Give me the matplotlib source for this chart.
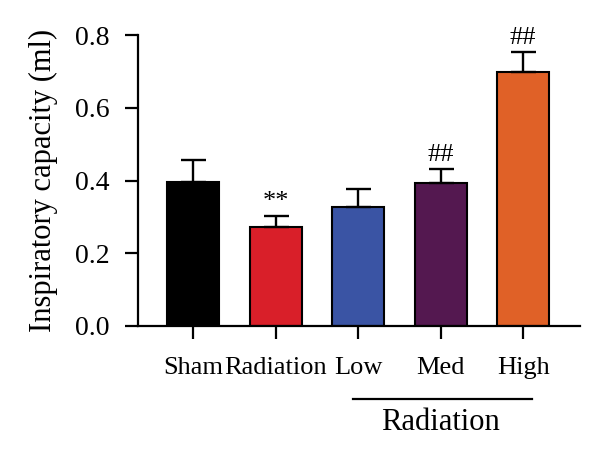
import numpy as np
import matplotlib.pyplot as plt

plt.rcParams['font.family'] = ['Liberation Serif', 'DejaVu Serif']

# data
groups = ['Sham', 'Radiation', 'Low', 'Med', 'High']
means = [0.396, 0.273, 0.327, 0.393, 0.698]
errs = [0.060, 0.030, 0.049, 0.038, 0.055]
marks = ['', '**', '', '##', '##']
colors = ['#000000', '#d91f29', '#3a54a4', '#541850', '#e06127']

fig = plt.figure(figsize=(6, 4.57), dpi=100)
ax = fig.add_axes([0.23, 0.2867, 0.737, 0.636])

x = np.arange(len(groups))
ax.bar(x, means, width=0.63, color=colors, edgecolor='black', linewidth=1.5,
       yerr=[np.zeros(len(errs)), errs], capsize=9,
       error_kw=dict(elinewidth=1.7, capthick=1.7, ecolor='black'), zorder=2)

# significance marks above error bars
for xi, m, e, s in zip(x, means, errs, marks):
    if s:
        ax.text(xi, m + e + 0.008, s, ha='center', va='bottom', fontsize=19)

ax.set_xlim(-0.667, 4.69)
ax.set_ylim(0, 0.8)
ax.set_yticks([0.0, 0.2, 0.4, 0.6, 0.8])
ax.set_yticklabels(['0.0', '0.2', '0.4', '0.6', '0.8'])
ax.set_xticks(x)
ax.set_xticklabels(groups)

for side in ['top', 'right']:
    ax.spines[side].set_visible(False)
for side in ['left', 'bottom']:
    ax.spines[side].set_linewidth(1.6)
ax.tick_params(axis='both', width=1.6, length=9.5, color='black')
ax.tick_params(axis='x', pad=13, labelsize=19)
ax.tick_params(axis='y', pad=11, labelsize=20)

ax.set_ylabel('Inspiratory capacity (ml)', fontsize=22, labelpad=12)

# group bracket for the radiation doses
trans = ax.get_xaxis_transform()
ax.plot([1.94, 4.11], [-0.251, -0.251], color='black', lw=1.6, transform=trans, clip_on=False)
ax.text(3.0, -0.333, 'Radiation', ha='center', va='center', fontsize=22, transform=trans)

plt.savefig('out.png', dpi=100)
